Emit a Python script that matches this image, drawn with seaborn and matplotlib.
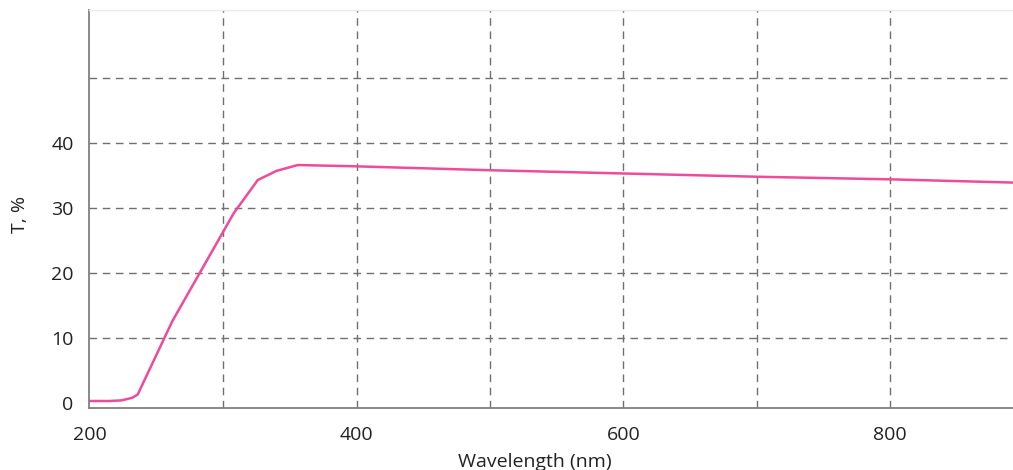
import matplotlib
matplotlib.use("Agg")
import matplotlib.pyplot as plt
import seaborn as sns
import pandas as pd

# Data
wavelength_nm = [200, 215, 224, 232, 236, 262, 308, 326, 340, 356, 400, 500, 600, 700, 800, 892]
transmission = [0.3, 0.3, 0.4, 0.8, 1.3, 12.6, 29.2, 34.3, 35.7, 36.6, 36.4, 35.8, 35.3, 34.8, 34.4, 33.9]

x_grid = [300, 400, 500, 600, 700, 800]
x_tick_labels = [200, 400, 600, 800]
y_ticks = [0, 10, 20, 30, 40, 50]
y_tick_labels = ["0", "10", "20", "30", "40", ""]

sns.set_theme(style="white")
plt.rcParams["font.family"] = ["Open Sans", "DejaVu Sans"]

df = pd.DataFrame({"Wavelength (nm)": wavelength_nm, "T, %": transmission})

fig = plt.figure(figsize=(10.13, 4.70), dpi=100)
ax = fig.add_axes([89 / 1013, 1 - 407.5 / 470, 1 - 89 / 1013, (407.5 - 10) / 470])

sns.lineplot(data=df, x="Wavelength (nm)", y="T, %", ax=ax, color="#F04A9B", linewidth=1.8)

ax.set_xlim(199.5, 892)
ax.set_ylim(-0.7, 60.45)

ax.set_xticks(x_tick_labels)
ax.set_xticklabels([str(v) for v in x_tick_labels])
ax.set_yticks(y_ticks)
ax.set_yticklabels(y_tick_labels)

grid_kw = dict(color="#707070", linewidth=1.0, linestyle=(0, (5.5, 4)))
for v in x_grid:
    ax.axvline(v, zorder=0, **grid_kw)
for v in y_ticks[1:]:
    ax.axhline(v, zorder=0, **grid_kw)

ax.tick_params(axis="both", which="both", length=0, labelsize=14, labelcolor="#222222")
ax.tick_params(axis="x", pad=13)
ax.tick_params(axis="y", pad=11)

for s in ["left", "bottom"]:
    ax.spines[s].set_color("#808080")
    ax.spines[s].set_linewidth(1.3)
ax.spines["top"].set_color("#EBEBEB")
ax.spines["top"].set_linewidth(1.0)
ax.spines["right"].set_visible(False)

ax.set_xlabel("Wavelength (nm)", fontsize=14, color="#222222", labelpad=7)
ax.set_ylabel("T, %", fontsize=14, color="#222222", labelpad=16)
ax.xaxis.label.set_x((535 - 89) / 924)
ax.yaxis.label.set_y(1 - (214 - 10) / 397.5)

fig.savefig("out.png", dpi=100)
